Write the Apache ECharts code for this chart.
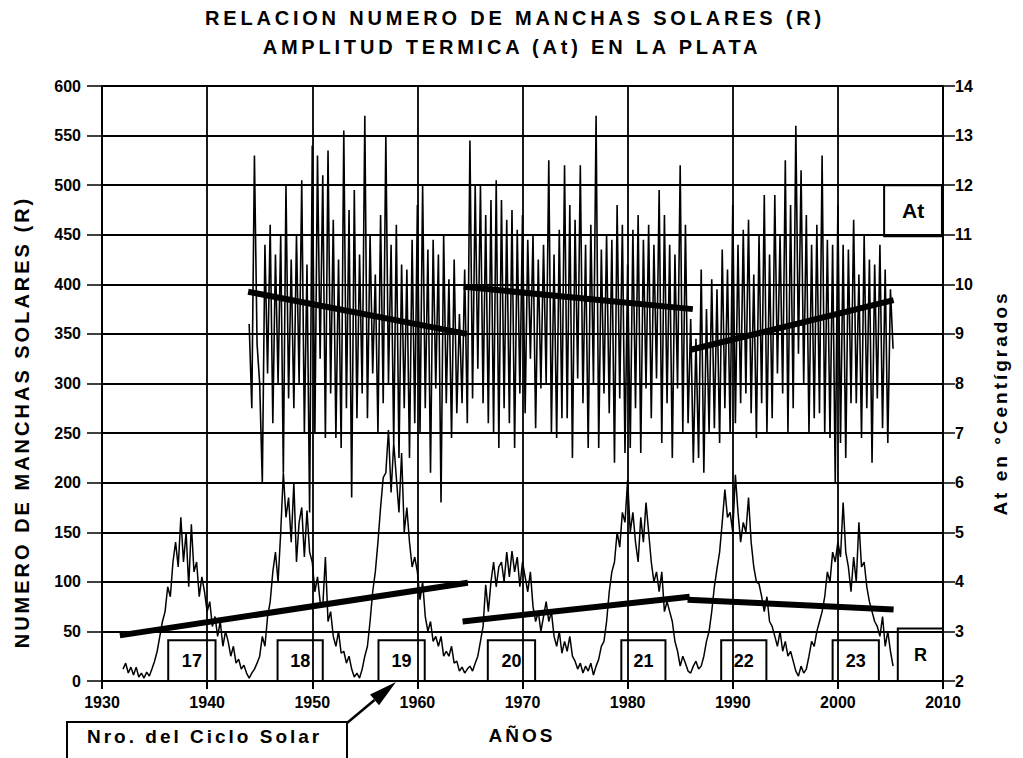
<!DOCTYPE html>
<html><head><meta charset="utf-8">
<script src="https://cdn.jsdelivr.net/npm/echarts@6/dist/echarts.min.js"></script>
<style>
html,body{margin:0;padding:0;background:#fff;}
#c{width:1023px;height:758px;}
#c svg text[style*="spa38"]{letter-spacing:3.8px;}
#c svg text[style*="spa30"]{letter-spacing:3px;}
</style></head><body><div id="c"></div>
<script>
// ---------- DATA ----------
const titleLines = ['RELACION NUMERO DE MANCHAS SOLARES (R)', 'AMPLITUD TERMICA (At) EN LA PLATA'];
const leftAxisName = 'NUMERO DE MANCHAS SOLARES (R)';
const rightAxisName = 'At en °Centígrados';
const xAxisName = 'AÑOS';
const noteText = 'Nro. del Ciclo Solar';

const xRange = [1930, 2010, 10];
const rRange = [0, 600, 50];
const atRange = [2, 14, 1];

// Sunspot number R, quarterly samples starting 1932.0
const rStart = 1932.0, rStep = 0.25;
const rValues = [
 12,18,8,14, 6,14,4,8, 3,9,5,12, 20,30,45,60, 70,95,85,120,
 140,115,165,120, 150,95,158,110, 120,85,105,90, 70,80,55,65, 45,60,35,50,
 40,25,35,18, 22,12,16,8, 3,8,12,18, 25,45,35,65, 80,110,130,100,
 150,210,165,185, 140,200,120,160, 175,125,172,130, 120,90,105,80, 75,125,60,70,
 45,35,50,28, 30,18,25,12, 4,8,3,12, 25,35,60,90, 110,140,175,205,
 210,253,190,240, 205,170,230,150, 175,140,115,125, 110,82,100,65, 50,60,40,45,
 35,45,25,30, 25,35,18,20, 10,14,8,12, 15,10,18,25, 40,55,97,70,
 100,120,95,115, 120,100,130,105, 131,110,125,95, 120,105,90,110, 75,60,70,50,
 65,80,60,70, 45,35,50,28, 40,30,45,25, 20,12,18,8, 15,10,18,6,
 15,22,35,40, 60,90,110,120, 150,135,170,160, 203,150,170,140, 120,165,140,180,
 150,120,100,110, 90,110,70,80, 70,60,40,30, 15,25,18,10, 8,15,20,12,
 15,25,40,50, 70,95,113,130, 160,193,165,170, 150,208,170,140, 160,150,185,140,
 115,100,98,85, 70,85,60,55, 45,35,50,30, 40,25,30,20, 10,5,15,8,
 12,25,40,35, 50,60,70,85, 110,100,130,120, 140,125,180,130, 115,90,125,100,
 160,115,120,95, 80,70,60,55, 45,65,35,50, 30,15
];

// Thermal amplitude At (°C), quarterly samples starting 1944.0
const atStart = 1944.0, atStep = 0.25;
const atValues = [
 9.2,7.5,12.6,8.8, 8.0,6.0,10.8,8.2, 11.2,7.2,10.6,8.0, 11.0,6.2,12.0,7.7, 10.5,7.5,11.0,8.0,
 12.1,7.0,10.4,5.4, 12.8,7.0,12.6,8.5, 12.2,6.9,12.7,7.8, 11.3,6.9,10.5,6.7, 13.1,7.5,11.5,5.7,
 11.9,7.3,10.6,7.8, 13.4,7.3,11.0,8.2, 10.2,7.0,11.4,7.6, 13.0,8.0,10.8,6.8, 11.2,6.5,10.4,7.5,
 10.3,6.5,10.9,7.2, 11.6,7.0,12.0,7.5, 10.7,6.2,10.9,7.9, 10.6,5.6,11.0,7.6, 10.1,6.9,10.5,7.4,
 9.4,7.6,10.3,7.2, 12.9,7.7,12.0,8.3, 12.0,7.6,11.4,7.2, 11.7,7.0,12.1,6.7, 11.7,7.5,11.3,7.2,
 11.5,6.7,11.1,7.8, 11.4,7.4,10.9,8.5, 11.0,7.1,10.5,7.9, 10.8,8.0,12.5,7.0, 10.6,6.9,11.1,7.3,
 12.4,7.3,11.6,6.5, 11.3,8.1,12.4,7.6, 10.8,6.7,11.2,8.0, 13.4,6.7,10.7,7.8, 11.0,7.4,10.9,6.4,
 11.6,7.7,11.2,6.6, 10.4,6.7,11.1,7.5, 11.4,6.6,10.9,7.9, 11.2,7.3,10.8,8.1, 11.9,6.8,11.4,7.6,
 10.8,6.5,10.6,7.9, 12.4,7.0,11.2,7.2, 9.3,6.4,8.9,6.5, 10.3,6.2,9.5,7.0, 10.1,7.1,9.9,6.8,
 10.7,7.5,10.3,7.0, 11.6,7.2,10.8,7.6, 11.1,7.8,11.3,7.4, 10.2,6.9,11.0,7.6, 11.8,7.0,10.6,7.3,
 11.8,8.2,11.0,7.8, 12.5,7.0,11.6,7.5, 13.2,8.6,12.3,8.0, 11.4,7.0,10.8,7.3, 11.2,7.4,12.6,7.0,
 10.9,6.9,10.8,6.0, 11.6,6.8,10.8,6.5, 10.7,7.6,11.3,7.6, 10.2,6.9,11.0,7.5, 10.5,6.4,10.4,7.7,
 10.8,7.1,10.3,6.8, 9.9,8.7
];

// Trend segments (year, value)
const rTrend1 = [[1931.7, 46], [1964.8, 99]];
const rTrend2 = [[1964.3, 60], [1985.9, 85]];
const rTrend3 = [[1985.7, 82], [2005.3, 72]];
const atTrend1 = [[1943.9, 9.85], [1964.7, 9.0]];
const atTrend2 = [[1964.4, 9.95], [1986.2, 9.5]];
const atTrend3 = [[1986.0, 8.68], [2005.3, 9.68]];

// Solar cycle numbers and their label boxes (years spanned, R height)
const cycleLabels = ['17', '18', '19', '20', '21', '22', '23'];
const cycleBoxYears = [[1936.3, 1940.8], [1946.7, 1951.0], [1956.3, 1960.7], [1966.7, 1971.2],
                       [1979.4, 1983.6], [1988.9, 1993.2], [1999.5, 2003.9]];
const cycleBoxTop = 41;
const rBox = {label: 'R', years: [2005.7, 2010], top: 53};
const atBox = {label: 'At', years: [2004.4, 2009.9], range: [10.97, 12.0]};

// ---------- BUILD ----------
const rSeries = rValues.map((v, i) => [rStart + i * rStep, v]);
const atSeries = atValues.map((v, i) => [atStart + i * atStep, v]);

const F = 'Liberation Sans, Arial';
const black = '#000';

const chart = echarts.init(document.getElementById('c'), null, {renderer: 'svg'});

const cycleAreas = cycleLabels.map((lab, i) => [
  {name: lab, coord: [cycleBoxYears[i][0], cycleBoxTop]},
  {coord: [cycleBoxYears[i][1], 0]}
]);
cycleAreas.push([{name: rBox.label, coord: [rBox.years[0], rBox.top]}, {coord: [rBox.years[1], 0]}]);

function trend(data, yIdx) {
  return {type: 'line', data: data, yAxisIndex: yIdx, symbol: 'none', silent: true, z: 5,
    lineStyle: {color: black, width: 6, cap: 'butt'}, animation: false};
}

// arrow geometry for the annotation (layout, pixels)
const tail = [347, 723], tip = [396, 682];
const dx = tip[0] - tail[0], dy = tip[1] - tail[1], L = Math.hypot(dx, dy);
const ux = dx / L, uy = dy / L, px = -uy, py = ux;
const hb = [tip[0] - 28 * ux, tip[1] - 28 * uy];

const option = {
  backgroundColor: '#fff',
  animation: false,
  grid: {left: 102, right: 80, top: 86, bottom: 77, containLabel: false},
  xAxis: {
    type: 'value', min: xRange[0], max: xRange[1], interval: xRange[2],
    axisLine: {show: true, lineStyle: {color: black, width: 2}},
    axisTick: {show: true, inside: false, length: 8, lineStyle: {color: black, width: 2}},
    axisLabel: {color: black, fontFamily: F, fontWeight: 'bold', fontSize: 16, margin: 13,
      formatter: v => String(v)},
    splitLine: {show: true, lineStyle: {color: black, width: 1.8}}
  },
  yAxis: [{
    type: 'value', min: rRange[0], max: rRange[1], interval: rRange[2],
    axisLine: {show: true, lineStyle: {color: black, width: 2}},
    axisTick: {show: true, inside: false, length: 15, lineStyle: {color: black, width: 1.5}},
    axisLabel: {color: black, fontFamily: F, fontWeight: 'bold', fontSize: 16, margin: 21},
    splitLine: {show: true, lineStyle: {color: black, width: 1.8}}
  }, {
    type: 'value', position: 'right', min: atRange[0], max: atRange[1], interval: atRange[2],
    axisLine: {show: true, lineStyle: {color: black, width: 2}},
    axisTick: {show: true, inside: false, length: 12, lineStyle: {color: black, width: 1.5}},
    axisLabel: {color: black, fontFamily: F, fontWeight: 'bold', fontSize: 16, margin: 12},
    splitLine: {show: false}
  }],
  series: [
    {type: 'line', name: 'R', data: rSeries, yAxisIndex: 0, symbol: 'none', silent: true,
     lineStyle: {color: black, width: 1.5}, z: 3,
     markArea: {silent: true,
       itemStyle: {color: 'rgba(0,0,0,0)', borderColor: black, borderWidth: 2},
       label: {show: true, position: 'inside', color: black, fontFamily: F, fontWeight: 'bold', fontSize: 18},
       emphasis: {disabled: true},
       data: cycleAreas}},
    {type: 'line', name: 'At', data: atSeries, yAxisIndex: 1, symbol: 'none', silent: true,
     lineStyle: {color: black, width: 1.6}, z: 3,
     markArea: {silent: true,
       itemStyle: {color: 'rgba(0,0,0,0)', borderColor: black, borderWidth: 2},
       label: {show: true, position: 'inside', color: black, fontFamily: F, fontWeight: 'bold', fontSize: 21},
       emphasis: {disabled: true},
       data: [[{name: atBox.label, coord: [atBox.years[0], atBox.range[1]]}, {coord: [atBox.years[1], atBox.range[0]]}]]}},
    trend(rTrend1, 0), trend(rTrend2, 0), trend(rTrend3, 0),
    trend(atTrend1, 1), trend(atTrend2, 1), trend(atTrend3, 1)
  ],
  graphic: [
    {type: 'text', x: 515, y: 18, silent: true, style: {text: titleLines[0], fill: black,
      font: 'bold 20px Liberation Sans, spa38', align: 'center', verticalAlign: 'middle', textAlign: 'center', textVerticalAlign: 'middle'}},
    {type: 'text', x: 512, y: 47, silent: true, style: {text: titleLines[1], fill: black,
      font: 'bold 20px Liberation Sans, spa38', align: 'center', verticalAlign: 'middle', textAlign: 'center', textVerticalAlign: 'middle'}},
    {type: 'text', x: 22, y: 422, rotation: Math.PI / 2, silent: true, style: {text: leftAxisName, fill: black,
      font: 'bold 20px Liberation Sans, spa30', align: 'center', verticalAlign: 'middle', textAlign: 'center', textVerticalAlign: 'middle'}},
    {type: 'text', x: 1000, y: 403, rotation: Math.PI / 2, silent: true, style: {text: rightAxisName, fill: black,
      font: 'bold 19px Liberation Sans, spa30', align: 'center', verticalAlign: 'middle', textAlign: 'center', textVerticalAlign: 'middle'}},
    {type: 'text', x: 522, y: 735, silent: true, style: {text: xAxisName, fill: black,
      font: 'bold 19px Liberation Sans, spa30', align: 'center', verticalAlign: 'middle', textAlign: 'center', textVerticalAlign: 'middle'}},
    {type: 'rect', silent: true, shape: {x: 67, y: 722, width: 280, height: 60},
      style: {fill: '#fff', stroke: black, lineWidth: 2}, z: 10},
    {type: 'text', x: 87, y: 736, silent: true, z: 11, style: {text: noteText, fill: black,
      font: 'bold 19px Liberation Sans, spa30', align: 'left', verticalAlign: 'middle', textAlign: 'left', textVerticalAlign: 'middle'}},
    {type: 'line', silent: true, z: 11, shape: {x1: tail[0], y1: tail[1], x2: hb[0], y2: hb[1]},
      style: {stroke: black, lineWidth: 2.5}},
    {type: 'polygon', silent: true, z: 11, shape: {points: [tip,
      [hb[0] + 7 * px, hb[1] + 7 * py], [hb[0] - 7 * px, hb[1] - 7 * py]]},
      style: {fill: black}}
  ]
};
chart.setOption(option);
</script></body></html>
